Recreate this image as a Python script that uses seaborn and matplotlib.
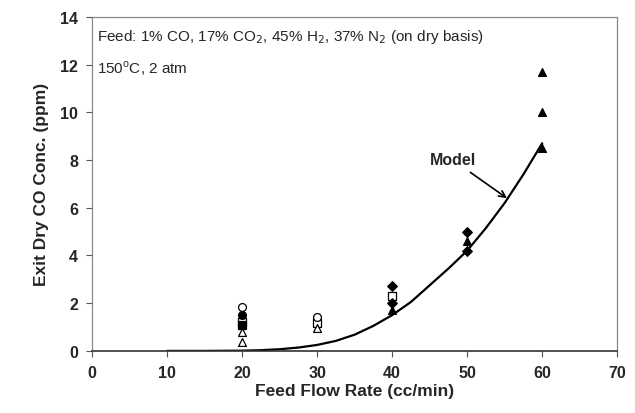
import numpy as np
import pandas as pd
import matplotlib
matplotlib.use("Agg")
import matplotlib.pyplot as plt
import seaborn as sns

# experimental points, grouped by marker
diamond_x = [40, 40, 50, 50]
diamond_y = [2.7, 2.0, 5.0, 4.2]
tri_x = [40, 50, 60, 60, 60]
tri_y = [1.7, 4.6, 11.7, 10.0, 8.5]
circle_x = [20]
circle_y = [1.5]
square_x = [20]
square_y = [1.1]
open_circle_x = [20, 30]
open_circle_y = [1.85, 1.4]
open_square_x = [20, 30, 40]
open_square_y = [1.2, 1.15, 2.3]
open_tri_x = [20, 20, 30]
open_tri_y = [0.8, 0.38, 0.97]

# model curve
model_x = [10, 15, 20, 22.5, 25, 27.5, 30, 32.5, 35, 37.5, 40, 42.5, 45, 47.5, 50,
           52.5, 55, 57.5, 60]
model_y = [0.0, 0.0, 0.01, 0.03, 0.07, 0.14, 0.25, 0.42, 0.68, 1.05, 1.5, 2.05,
           2.75, 3.45, 4.2, 5.15, 6.2, 7.4, 8.7]

sns.set_style("white")
plt.rcParams['font.family'] = ['Liberation Sans', 'DejaVu Sans']

fig = plt.figure(figsize=(6.35, 4.14), dpi=100)
ax = fig.add_axes([0.145, 0.150, 0.827, 0.807])

sns.lineplot(x=model_x, y=model_y, ax=ax, color='black', lw=1.6)

def pts(xs, ys, marker, filled, size=32):
    sns.scatterplot(x=xs, y=ys, ax=ax, marker=marker, s=size,
                    facecolor='black' if filled else 'white',
                    edgecolor='black', linewidth=0.9, zorder=3)

pts(open_square_x, open_square_y, 's', False)
pts(square_x, square_y, 's', True)
pts(open_circle_x, open_circle_y, 'o', False)
pts(circle_x, circle_y, 'o', True)
pts(open_tri_x, open_tri_y, '^', False)
pts(diamond_x, diamond_y, 'D', True, 24)
pts(tri_x, tri_y, '^', True)

ax.set_xlim(0, 70)
ax.set_ylim(0, 14)
ax.set_xticks(np.arange(0, 71, 10))
ax.set_yticks(np.arange(0, 15, 2))
for lab in ax.get_xticklabels() + ax.get_yticklabels():
    lab.set_fontweight('bold')
    lab.set_fontsize(11.5)
ax.tick_params(axis='both', direction='out', length=4, width=0.8,
               color='#555555', pad=6, bottom=True, left=True)
for sp in ax.spines.values():
    sp.set_color('#888888')
    sp.set_linewidth(0.9)
ax.spines['bottom'].set_color('#333333')
ax.spines['bottom'].set_linewidth(1.2)

ax.set_xlabel('Feed Flow Rate (cc/min)', fontsize=12.5, fontweight='bold', labelpad=2)
ax.set_ylabel('Exit Dry CO Conc. (ppm)', fontsize=12.5, fontweight='bold', labelpad=8)

ax.text(0.7, 13.2, 'Feed: 1% CO, 17% CO$_2$, 45% H$_2$, 37% N$_2$ (on dry basis)',
        fontsize=11, va='center')
ax.text(0.7, 11.85, '150$^{\\mathregular{o}}$C, 2 atm', fontsize=11, va='center')

ax.annotate('Model', xy=(55.3, 6.4), xytext=(45, 8.0), fontsize=11.5,
            fontweight='bold', va='center',
            arrowprops=dict(arrowstyle='->', color='black', lw=1.2,
                            shrinkA=2, shrinkB=0))

fig.savefig('out.png', dpi=100)
